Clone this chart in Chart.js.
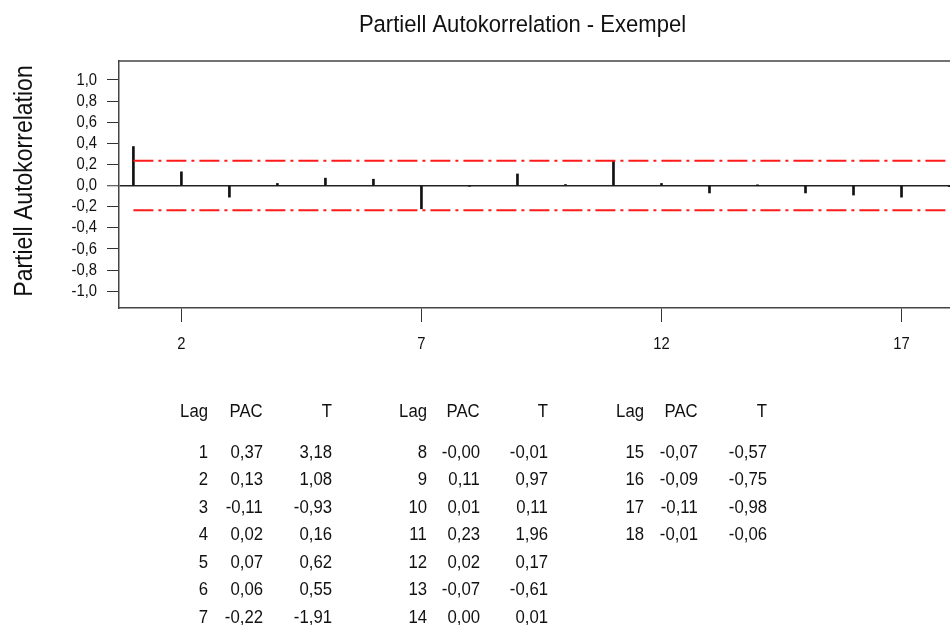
<!DOCTYPE html>
<html>
<head>
<meta charset="utf-8">
<script src="https://cdn.jsdelivr.net/npm/chart.js@4"></script>
<style>
html, body { margin: 0; padding: 0; background: #fff; }
#wrap { position: relative; width: 950px; height: 625px; overflow: hidden; }
canvas { position: absolute; left: 0; top: 0; }
.cell { position: absolute; font-family: "Liberation Sans", Arial, sans-serif; font-size: 18px; line-height: 20px; color: #111; white-space: nowrap; text-align: right; transform: scaleX(0.93); transform-origin: right center; }
</style>
</head>
<body>
<div id="wrap"><canvas id="c" width="950" height="625"></canvas></div>
<script>
// ---- data ----
const chartTitle = 'Partiell Autokorrelation - Exempel';
const yAxisTitle = 'Partiell Autokorrelation';
const lags  = [1, 2, 3, 4, 5, 6, 7, 8, 9, 10, 11, 12, 13, 14, 15, 16, 17, 18];
const pac   = [0.37, 0.13, -0.11, 0.02, 0.07, 0.06, -0.22, -0.003, 0.11, 0.01, 0.23, 0.02, -0.07, 0.001, -0.07, -0.09, -0.11, -0.01];
const tStat = [3.18, 1.08, -0.93, 0.16, 0.62, 0.55, -1.91, -0.01, 0.97, 0.11, 1.96, 0.17, -0.61, 0.01, -0.57, -0.75, -0.98, -0.06];
const yTicks = [-1.0, -0.8, -0.6, -0.4, -0.2, 0, 0.2, 0.4, 0.6, 0.8, 1.0];
const xTicks = [2, 7, 12, 17];
const limitLags  = [1, 18.5];
const upperLimit = [0.234, 0.234];
const lowerLimit = [-0.234, -0.234];
const tableHeaders = ['Lag', 'PAC', 'T'];
const rowsPerGroup = 7;

const fmt2 = v => v.toFixed(2).replace('.', ',');
const fmt1 = v => v.toFixed(1).replace('.', ',');
const FAMILY = '"Liberation Sans", Arial, sans-serif';

Chart.defaults.font.family = FAMILY;
Chart.defaults.color = '#111';

// draws text slightly condensed horizontally, like the reference rendering
function condensedText(ctx, text, x, y, size, align, baseline, sx, rot) {
  ctx.save();
  ctx.translate(x, y);
  if (rot) ctx.rotate(rot);
  ctx.scale(sx, 1);
  ctx.font = size + 'px ' + FAMILY;
  ctx.fillStyle = '#111';
  ctx.textAlign = align;
  ctx.textBaseline = baseline;
  ctx.fillText(text, 0, 0);
  ctx.restore();
}

const textPlugin = {
  id: 'boxAndTexts',
  afterDraw(chart) {
    const { ctx, chartArea, scales } = chart;
    // top border of the plot box
    ctx.save();
    ctx.strokeStyle = '#444';
    ctx.lineWidth = 1.5;
    ctx.beginPath();
    ctx.moveTo(chartArea.left, chartArea.top);
    ctx.lineTo(chartArea.right, chartArea.top);
    ctx.stroke();
    ctx.restore();
    // chart title
    condensedText(ctx, chartTitle, (chartArea.left + chartArea.right) / 2 - 12, 31.5, 24.5, 'center', 'alphabetic', 0.9, 0);
    // y axis title
    condensedText(ctx, yAxisTitle, 31.5, 181, 25, 'center', 'alphabetic', 0.92, -Math.PI / 2);
    // y tick labels
    scales.y.ticks.forEach(t => {
      condensedText(ctx, fmt1(t.value), 97, scales.y.getPixelForValue(t.value), 17, 'right', 'middle', 0.87, 0);
    });
    // x tick labels
    scales.x.ticks.forEach(t => {
      condensedText(ctx, String(t.value), scales.x.getPixelForValue(t.value), 344, 17, 'center', 'middle', 0.87, 0);
    });
  }
};

new Chart(document.getElementById('c'), {
  type: 'bar',
  data: {
    datasets: [
      {
        type: 'bar',
        label: 'PAC',
        data: lags.map((l, i) => ({ x: l, y: pac[i] })),
        backgroundColor: '#111',
        borderWidth: 0,
        barThickness: 2,
        order: 1
      },
      {
        type: 'line',
        label: 'Övre gräns',
        data: limitLags.map((l, i) => ({ x: l, y: upperLimit[i] })),
        borderColor: '#ff1a1a',
        borderWidth: 2,
        borderDash: [20, 5, 3, 5],
        pointRadius: 0,
        fill: false,
        order: 0
      },
      {
        type: 'line',
        label: 'Undre gräns',
        data: limitLags.map((l, i) => ({ x: l, y: lowerLimit[i] })),
        borderColor: '#ff1a1a',
        borderWidth: 2,
        borderDash: [20, 5, 3, 5],
        pointRadius: 0,
        fill: false,
        order: 0
      }
    ]
  },
  options: {
    responsive: false,
    animation: false,
    layout: { padding: { top: 61, left: 0, right: 0, bottom: 0 } },
    plugins: { legend: { display: false }, tooltip: { enabled: false }, title: { display: false } },
    scales: {
      x: {
        type: 'linear',
        min: 0.7,
        max: 18.01,
        offset: false,
        grid: { display: true, drawOnChartArea: false, drawTicks: true, tickLength: 14, color: '#333', offset: false },
        border: { display: true, color: '#444', width: 1.5 },
        ticks: { display: false, autoSkip: false },
        afterBuildTicks: s => { s.ticks = xTicks.map(v => ({ value: v })); },
        afterFit: s => { s.height = 317; }
      },
      y: {
        min: -1.16,
        max: 1.18,
        grid: {
          display: true,
          drawOnChartArea: true,
          drawTicks: true,
          tickLength: 12,
          tickColor: '#333',
          tickWidth: 1,
          color: c => (c.tick && c.tick.value === 0) ? '#222' : 'rgba(0,0,0,0)',
          lineWidth: c => (c.tick && c.tick.value === 0) ? 1.5 : 1
        },
        border: { display: true, color: '#444', width: 1.5 },
        ticks: { display: false },
        afterBuildTicks: s => { s.ticks = yTicks.map(v => ({ value: v })); },
        afterFit: s => { s.width = 119; }
      }
    }
  },
  plugins: [textPlugin]
});

// ---- table below the chart ----
const wrap = document.getElementById('wrap');
const groupRights = [[208, 263, 332], [427, 480, 548], [644, 698, 767]];
const headerY = 411, firstRowY = 451.7, rowStep = 27.47;
function cell(text, right, cy) {
  const d = document.createElement('div');
  d.className = 'cell';
  d.textContent = text;
  d.style.right = (950 - right) + 'px';
  d.style.top = (cy - 10) + 'px';
  wrap.appendChild(d);
}
groupRights.forEach((cols, g) => {
  tableHeaders.forEach((h, k) => cell(h, cols[k], headerY));
  for (let r = 0; r < rowsPerGroup; r++) {
    const i = g * rowsPerGroup + r;
    if (i >= lags.length) break;
    const cy = firstRowY + r * rowStep;
    cell(String(lags[i]), cols[0], cy);
    cell(fmt2(pac[i]), cols[1], cy);
    cell(fmt2(tStat[i]), cols[2], cy);
  }
});
</script>
</body>
</html>
